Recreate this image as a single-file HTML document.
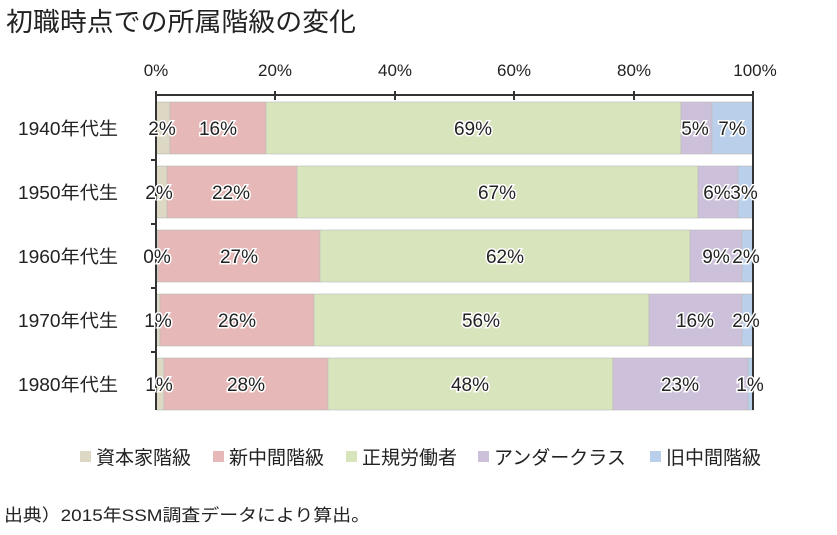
<!DOCTYPE html>
<html><head><meta charset="utf-8"><style>
body{margin:0;background:#fff;}
svg text{font-family:"Liberation Sans","Noto Sans CJK JP",sans-serif;fill:#222;}
.l{stroke:#fff;stroke-width:3;paint-order:stroke;font-size:19px;text-anchor:middle;}
</style></head><body>
<svg width="837" height="530" xmlns="http://www.w3.org/2000/svg">
<text x="6" y="31" font-size="26" textLength="350" lengthAdjust="spacingAndGlyphs">初職時点での所属階級の変化</text>
<g font-size="17" text-anchor="middle">
<text x="156" y="76">0%</text><text x="275" y="76">20%</text><text x="395" y="76">40%</text><text x="514" y="76">60%</text><text x="634" y="76">80%</text><text x="755" y="76">100%</text>
</g>
<g stroke="#bbb" stroke-width="0.6">
<rect x="156" y="102" width="14" height="52" fill="#ddd8c4"/><rect x="170" y="102" width="96" height="52" fill="#e6b8b7"/><rect x="266" y="102" width="415" height="52" fill="#d8e4bc"/><rect x="681" y="102" width="31" height="52" fill="#ccc0da"/><rect x="712" y="102" width="41" height="52" fill="#bad0ea"/>
<rect x="156" y="166" width="11" height="52" fill="#ddd8c4"/><rect x="167" y="166" width="130" height="52" fill="#e6b8b7"/><rect x="297" y="166" width="401" height="52" fill="#d8e4bc"/><rect x="698" y="166" width="40" height="52" fill="#ccc0da"/><rect x="738" y="166" width="15" height="52" fill="#bad0ea"/>
<rect x="156" y="230" width="2" height="52" fill="#ddd8c4"/><rect x="158" y="230" width="162" height="52" fill="#e6b8b7"/><rect x="320" y="230" width="370" height="52" fill="#d8e4bc"/><rect x="690" y="230" width="52" height="52" fill="#ccc0da"/><rect x="742" y="230" width="11" height="52" fill="#bad0ea"/>
<rect x="156" y="294" width="4" height="52" fill="#ddd8c4"/><rect x="160" y="294" width="154" height="52" fill="#e6b8b7"/><rect x="314" y="294" width="335" height="52" fill="#d8e4bc"/><rect x="649" y="294" width="93" height="52" fill="#ccc0da"/><rect x="742" y="294" width="11" height="52" fill="#bad0ea"/>
<rect x="156" y="358" width="8" height="52" fill="#ddd8c4"/><rect x="164" y="358" width="164" height="52" fill="#e6b8b7"/><rect x="328" y="358" width="285" height="52" fill="#d8e4bc"/><rect x="613" y="358" width="135" height="52" fill="#ccc0da"/><rect x="748" y="358" width="5" height="52" fill="#bad0ea"/>
</g>
<g stroke="#333" stroke-width="2">
<line x1="156" y1="95" x2="753" y2="95"/>
<line x1="156" y1="91" x2="156" y2="410"/>
<line x1="753" y1="91" x2="753" y2="410"/>
<line x1="275" y1="91" x2="275" y2="100"/><line x1="395" y1="91" x2="395" y2="100"/><line x1="514" y1="91" x2="514" y2="100"/><line x1="634" y1="91" x2="634" y2="100"/>
<line x1="151" y1="160" x2="156" y2="160"/><line x1="151" y1="224" x2="156" y2="224"/><line x1="151" y1="288" x2="156" y2="288"/><line x1="151" y1="352" x2="156" y2="352"/>
</g>
<g>
<text class="l" x="162" y="135">2%</text><text class="l" x="218" y="135">16%</text><text class="l" x="473" y="135">69%</text><text class="l" x="695" y="135">5%</text><text class="l" x="732" y="135">7%</text>
<text class="l" x="159" y="199">2%</text><text class="l" x="231" y="199">22%</text><text class="l" x="497" y="199">67%</text><text class="l" x="717" y="199">6%</text><text class="l" x="744" y="199">3%</text>
<text class="l" x="157" y="263">0%</text><text class="l" x="239" y="263">27%</text><text class="l" x="505" y="263">62%</text><text class="l" x="716" y="263">9%</text><text class="l" x="746" y="263">2%</text>
<text class="l" x="158" y="327">1%</text><text class="l" x="237" y="327">26%</text><text class="l" x="481" y="327">56%</text><text class="l" x="695" y="327">16%</text><text class="l" x="746" y="327">2%</text>
<text class="l" x="159" y="391">1%</text><text class="l" x="246" y="391">28%</text><text class="l" x="470" y="391">48%</text><text class="l" x="680" y="391">23%</text><text class="l" x="750" y="391">1%</text>
</g>
<g font-size="18">
<text x="18" y="135" textLength="100" lengthAdjust="spacingAndGlyphs">1940年代生</text><text x="18" y="199" textLength="100" lengthAdjust="spacingAndGlyphs">1950年代生</text><text x="18" y="263" textLength="100" lengthAdjust="spacingAndGlyphs">1960年代生</text><text x="18" y="327" textLength="100" lengthAdjust="spacingAndGlyphs">1970年代生</text><text x="18" y="391" textLength="100" lengthAdjust="spacingAndGlyphs">1980年代生</text>
</g>
<g font-size="19">
<rect x="80" y="451" width="11" height="11" fill="#ddd8c4"/><text x="96" y="464">資本家階級</text>
<rect x="213" y="451" width="11" height="11" fill="#e6b8b7"/><text x="229" y="464">新中間階級</text>
<rect x="346" y="451" width="11" height="11" fill="#d8e4bc"/><text x="362" y="464">正規労働者</text>
<rect x="478" y="451" width="11" height="11" fill="#ccc0da"/><text x="494" y="464">アンダークラス</text>
<rect x="650" y="451" width="11" height="11" fill="#bad0ea"/><text x="666" y="464">旧中間階級</text>
</g>
<text x="4" y="521" font-size="17" textLength="366" lengthAdjust="spacingAndGlyphs">出典）2015年SSM調査データにより算出。</text>
</svg>
</body></html>
